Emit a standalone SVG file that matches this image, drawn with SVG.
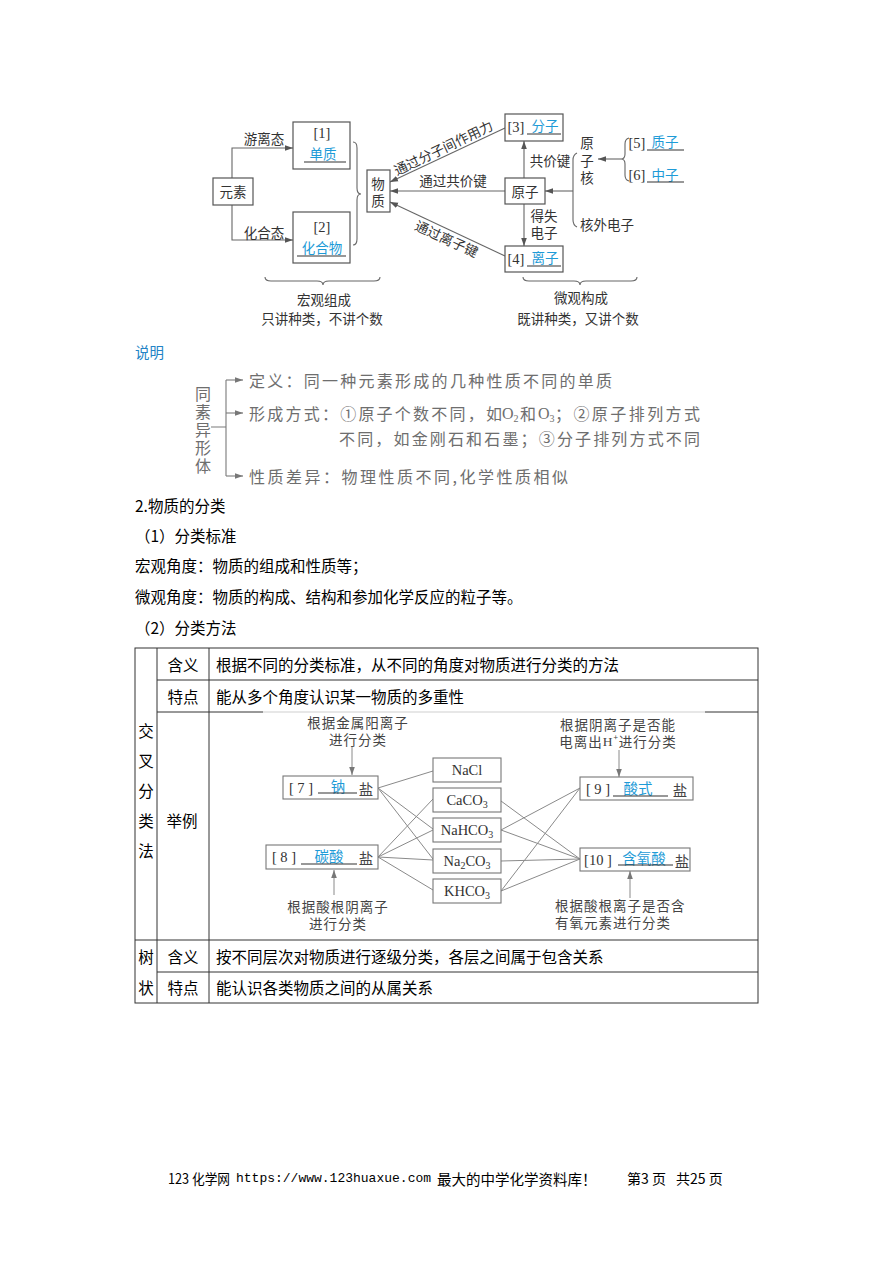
<svg xmlns="http://www.w3.org/2000/svg" width="894" height="1264" viewBox="0 0 894 1264">
<defs>
<style>
.t{font-family:"Noto Sans CJK SC","Noto Sans",sans-serif;fill:#333;font-size:13.5px;dominant-baseline:central}
.c{text-anchor:middle}
.b{fill:#1e9bd7}
.s{font-family:"Liberation Serif","Noto Sans CJK SC",serif;font-size:14.5px}
.box{fill:#fff;stroke:#555;stroke-width:1.2}
.ln{fill:none;stroke:#666;stroke-width:1.1}
.ul{stroke:#333;stroke-width:1.2}
.g{font-family:"Noto Sans CJK SC",sans-serif;fill:#6e6e6e;font-size:16px;dominant-baseline:central}
.gs{font-family:"Liberation Serif",serif}
.gl{fill:none;stroke:#7a7a7a;stroke-width:1.1}
.body{font-family:"Noto Sans CJK SC",sans-serif;font-size:15.5px;fill:#000;dominant-baseline:central}
.tb{stroke:#333;stroke-width:1;fill:none}
.cx{fill:none;stroke:#8a8a8a;stroke-width:1}
.cbox{fill:#fff;stroke:#777;stroke-width:1.1}
.ct{font-family:"Noto Sans CJK SC",sans-serif;fill:#444;font-size:13.5px;letter-spacing:1px;dominant-baseline:central}
.f{font-family:"Liberation Serif",serif;fill:#333;font-size:14.5px;dominant-baseline:central;text-anchor:middle}
</style>
<marker id="a" viewBox="0 0 10 10" refX="10" refY="5" markerWidth="8" markerHeight="8" markerUnits="userSpaceOnUse" orient="auto"><path d="M0,1.5L10,5L0,8.5z" fill="#555"/></marker>
<marker id="ag" viewBox="0 0 10 10" refX="10" refY="5" markerWidth="8" markerHeight="8" markerUnits="userSpaceOnUse" orient="auto"><path d="M0,1.5L10,5L0,8.5z" fill="#777"/></marker>
</defs>
<rect width="894" height="1264" fill="#fff"/>

<!-- ===== Top diagram ===== -->
<g id="top-connectors">
<path class="ln" d="M232,178V148H293" marker-end="url(#a)"/>
<path class="ln" d="M232,205V240H293" marker-end="url(#a)"/>
<path class="ln" d="M505,128L390,182" marker-end="url(#a)"/>
<path class="ln" d="M505,191L390,191" marker-end="url(#a)"/>
<path class="ln" d="M505,256L390,202" marker-end="url(#a)"/>
<path class="ln" d="M524,178V141" marker-end="url(#a)"/>
<path class="ln" d="M524,204V246" marker-end="url(#a)"/>
<path class="ln" d="M577,153Q573,155 573,160L573,220Q573,225 577,227"/>
<path class="ln" d="M573,191H545" marker-end="url(#a)"/>
<path class="ln" d="M629,138Q625,139 625,144L625,154Q625,159 621,159Q625,159 625,164L625,175Q625,180 629,181"/>
<path class="ln" d="M621,159H598" marker-end="url(#a)"/>
<path class="ln" d="M353,142Q357,142 357,148L357,188Q357,194 361,194Q357,194 357,200L357,239Q357,245 353,245"/>
<path class="ln" d="M265,277Q265,281 271,281L317,281Q323,281 323,285Q323,281 329,281L374,281Q380,281 380,277"/>
<path class="ln" d="M523,277Q523,281 529,281L574,281Q580,281 580,285Q580,281 586,281L631,281Q637,281 637,277"/>
<text class="t c" x="264" y="138">游离态</text>
<text class="t c" x="264" y="232">化合态</text>
<text class="t c" x="453" y="180">通过共价键</text>
<text class="t c" x="550" y="160">共价键</text>
<text class="t c" x="544" y="215">得失</text>
<text class="t c" x="544" y="232">电子</text>
<text class="t c" transform="translate(443,147) rotate(-25.6)">通过分子间作用力</text>
<text class="t c" transform="translate(447,238) rotate(24.7)">通过离子键</text>
</g>

<g id="n-yuansu"><rect class="box" x="213" y="178" width="40" height="27"/><text class="t c" x="233" y="191">元素</text></g>
<g id="n-1"><rect class="box" x="293" y="122" width="57" height="47"/><text class="t c s" x="322" y="133">[1]</text><text class="t c b" x="323" y="153">单质</text><line class="ul" x1="304" y1="162" x2="346" y2="162"/></g>
<g id="n-2"><rect class="box" x="293" y="212" width="57" height="51"/><text class="t c s" x="322" y="227">[2]</text><text class="t c b" x="322" y="247">化合物</text><line class="ul" x1="297" y1="256" x2="346" y2="256"/></g>
<g id="n-wuzhi"><rect class="box" x="367" y="170" width="23" height="42"/><text class="t c" x="378" y="183">物</text><text class="t c" x="378" y="200">质</text></g>
<g id="n-3"><rect class="box" x="505" y="114" width="58" height="27"/><text class="t c s" x="516" y="127">[3]</text><text class="t c b" x="545" y="125">分子</text><line class="ul" x1="527" y1="134" x2="561" y2="134"/></g>
<g id="n-yuanzi"><rect class="box" x="505" y="178" width="40" height="26"/><text class="t c" x="525" y="191">原子</text></g>
<g id="n-4"><rect class="box" x="505" y="246" width="58" height="26"/><text class="t c s" x="516" y="259">[4]</text><text class="t c b" x="545" y="257">离子</text><line class="ul" x1="527" y1="266" x2="561" y2="266"/></g>
<g id="n-yuanzihe"><text class="t c" x="587" y="142">原</text><text class="t c" x="587" y="160">子</text><text class="t c" x="587" y="177">核</text></g>
<g id="n-hewaidianzi"><text class="t" x="580" y="224">核外电子</text></g>
<g id="n-5"><text class="t c s" x="637" y="143">[5]</text><text class="t c b" x="665" y="141">质子</text><line class="ul" x1="647" y1="150" x2="684" y2="150"/></g>
<g id="n-6"><text class="t c s" x="637" y="175">[6]</text><text class="t c b" x="665" y="174">中子</text><line class="ul" x1="647" y1="182" x2="684" y2="182"/></g>
<g id="n-hongguan"><text class="t c" x="324" y="299">宏观组成</text><text class="t c" x="322" y="318">只讲种类，不讲个数</text></g>
<g id="n-weiguan"><text class="t c" x="581" y="297">微观构成</text><text class="t c" x="578" y="318">既讲种类，又讲个数</text></g>

<!-- ===== 说明 ===== -->
<g id="shuoming">
<text class="body" x="135" y="351" style="fill:#2383c6;font-size:14.5px">说明</text>
<text class="g" x="203" y="393" text-anchor="middle">同</text>
<text class="g" x="203" y="411" text-anchor="middle">素</text>
<text class="g" x="203" y="429" text-anchor="middle">异</text>
<text class="g" x="203" y="447" text-anchor="middle">形</text>
<text class="g" x="203" y="465" text-anchor="middle">体</text>
<path class="gl" d="M211,427H226M226,380V476"/>
<path class="gl" d="M226,380H243" marker-end="url(#ag)"/>
<path class="gl" d="M226,413H243" marker-end="url(#ag)"/>
<path class="gl" d="M226,476H243" marker-end="url(#ag)"/>
<text class="g" x="249" y="380" textLength="363" lengthAdjust="spacing">定义：同一种元素形成的几种性质不同的单质</text>
<text class="g" x="249" y="413" textLength="253" lengthAdjust="spacing">形成方式：①原子个数不同，如</text>
<text class="g gs" x="502" y="413">O<tspan font-size="10" dy="5">2</tspan></text>
<text class="g" x="520" y="413">和</text>
<text class="g gs" x="538" y="413">O<tspan font-size="10" dy="5">3</tspan></text>
<text class="g" x="555" y="413" textLength="145" lengthAdjust="spacing">；②原子排列方式</text>
<text class="g" x="339" y="438" textLength="361" lengthAdjust="spacing">不同，如金刚石和石墨；③分子排列方式不同</text>
<text class="g" x="249" y="476" textLength="319" lengthAdjust="spacing">性质差异：物理性质不同,化学性质相似</text>
</g>

<!-- ===== Body text ===== -->
<g id="body">
<text class="body" x="135" y="505">2.物质的分类</text>
<text class="body" x="135" y="535">（1）分类标准</text>
<text class="body" x="135" y="565">宏观角度：物质的组成和性质等；</text>
<text class="body" x="135" y="596">微观角度：物质的构成、结构和参加化学反应的粒子等。</text>
<text class="body" x="135" y="627">（2）分类方法</text>
</g>

<!-- ===== Table ===== -->
<g id="table">
<rect class="tb" x="135" y="648" width="623" height="355"/>
<line class="tb" x1="157" y1="648" x2="157" y2="1003"/>
<line class="tb" x1="209" y1="648" x2="209" y2="1003"/>
<line class="tb" x1="157" y1="680" x2="758" y2="680"/>
<line class="tb" x1="157" y1="712" x2="263" y2="712"/>
<line x1="263" y1="712" x2="705" y2="712" stroke="#cfcfcf" stroke-width="1"/>
<line class="tb" x1="705" y1="712" x2="758" y2="712"/>
<line class="tb" x1="135" y1="940" x2="758" y2="940"/>
<line class="tb" x1="157" y1="972" x2="758" y2="972"/>
<text class="body" x="146" y="730" text-anchor="middle">交</text>
<text class="body" x="146" y="760" text-anchor="middle">叉</text>
<text class="body" x="146" y="790" text-anchor="middle">分</text>
<text class="body" x="146" y="820" text-anchor="middle">类</text>
<text class="body" x="146" y="850" text-anchor="middle">法</text>
<text class="body" x="183" y="664" text-anchor="middle">含义</text>
<text class="body" x="183" y="696" text-anchor="middle">特点</text>
<text class="body" x="182" y="820" text-anchor="middle">举例</text>
<text class="body" x="216" y="664">根据不同的分类标准，从不同的角度对物质进行分类的方法</text>
<text class="body" x="216" y="696">能从多个角度认识某一物质的多重性</text>
<text class="body" x="146" y="956" text-anchor="middle">树</text>
<text class="body" x="146" y="987" text-anchor="middle">状</text>
<text class="body" x="183" y="956" text-anchor="middle">含义</text>
<text class="body" x="183" y="987" text-anchor="middle">特点</text>
<text class="body" x="216" y="956">按不同层次对物质进行逐级分类，各层之间属于包含关系</text>
<text class="body" x="216" y="987">能认识各类物质之间的从属关系</text>
</g>

<!-- ===== Cross classification ===== -->
<g id="cross-connectors">
<path class="cx" d="M378,788L433,771M378,788L433,829M378,788L433,859"/>
<path class="cx" d="M378,857L433,799M378,857L433,830M378,857L433,860M378,857L433,890"/>
<path class="cx" d="M501,830L580,788M501,891L580,788"/>
<path class="cx" d="M501,801L580,859M501,830L580,859M501,861L580,859M501,891L580,859"/>
<path class="cx" d="M352,747V775" marker-end="url(#ag)"/>
<path class="cx" d="M334,895V870" marker-end="url(#ag)"/>
<path class="cx" d="M619,750V777" marker-end="url(#ag)"/>
<path class="cx" d="M630,898V871" marker-end="url(#ag)"/>
</g>
<g id="lbl-jinshu"><text class="ct" x="358" y="722" text-anchor="middle">根据金属阳离子</text><text class="ct" x="358" y="739" text-anchor="middle">进行分类</text></g>
<g id="lbl-suangen"><text class="ct" x="338" y="906" text-anchor="middle">根据酸根阴离子</text><text class="ct" x="338" y="923" text-anchor="middle">进行分类</text></g>
<g id="lbl-yinlizi"><text class="ct" x="618" y="724" text-anchor="middle">根据阴离子是否能</text><text class="ct" x="618" y="741" text-anchor="middle">电离出<tspan class="gs">H</tspan><tspan font-size="8" dy="-5">+</tspan><tspan dy="5">进行分类</tspan></text></g>
<g id="lbl-hanyang"><text class="ct" x="555" y="905">根据酸根离子是否含</text><text class="ct" x="555" y="922">有氧元素进行分类</text></g>

<g id="n-7"><rect class="cbox" x="283" y="776" width="95" height="23"/><text class="f" x="301" y="788">[ 7 ]</text><text class="t c b" x="338" y="785" style="font-size:14.5px">钠</text><line class="ul" x1="318" y1="793" x2="357" y2="793"/><text class="ct" x="366" y="788" text-anchor="middle" style="font-size:14.5px;letter-spacing:0">盐</text></g>
<g id="n-8"><rect class="cbox" x="266" y="845" width="112" height="24"/><text class="f" x="284" y="857">[ 8 ]</text><text class="t c b" x="329" y="855" style="font-size:14.5px">碳酸</text><line class="ul" x1="301" y1="864" x2="357" y2="864"/><text class="ct" x="366" y="857" text-anchor="middle" style="font-size:14.5px;letter-spacing:0">盐</text></g>
<g id="n-nacl"><rect class="cbox" x="433" y="758" width="68" height="24"/><text class="f" x="467" y="770">NaCl</text></g>
<g id="n-caco3"><rect class="cbox" x="433" y="788" width="68" height="24"/><text class="f" x="467" y="800">CaCO<tspan font-size="10" dy="4">3</tspan></text></g>
<g id="n-nahco3"><rect class="cbox" x="433" y="818" width="68" height="24"/><text class="f" x="467" y="830">NaHCO<tspan font-size="10" dy="4">3</tspan></text></g>
<g id="n-na2co3"><rect class="cbox" x="433" y="849" width="68" height="24"/><text class="f" x="467" y="861">Na<tspan font-size="10" dy="4">2</tspan><tspan dy="-4">CO</tspan><tspan font-size="10" dy="4">3</tspan></text></g>
<g id="n-khco3"><rect class="cbox" x="433" y="879" width="68" height="24"/><text class="f" x="467" y="891">KHCO<tspan font-size="10" dy="4">3</tspan></text></g>
<g id="n-9"><rect class="cbox" x="580" y="777" width="113" height="23"/><text class="f" x="598" y="789">[ 9 ]</text><text class="t c b" x="638" y="787" style="font-size:14.5px">酸式</text><line class="ul" x1="613" y1="796" x2="668" y2="796"/><text class="ct" x="680" y="789" text-anchor="middle" style="font-size:14.5px;letter-spacing:0">盐</text></g>
<g id="n-10"><rect class="cbox" x="580" y="848" width="110" height="23"/><text class="f" x="598" y="860">[10 ]</text><text class="t c b" x="644" y="857" style="font-size:14.5px">含氧酸</text><line class="ul" x1="618" y1="865" x2="673" y2="865"/><text class="ct" x="682" y="860" text-anchor="middle" style="font-size:14.5px;letter-spacing:0">盐</text></g>

<!-- ===== Footer ===== -->
<g id="footer">
<text class="body" x="168" y="1178" style="font-size:14px" textLength="62" lengthAdjust="spacingAndGlyphs">123 化学网</text>
<text x="236" y="1178" style="font-family:'Liberation Mono',monospace;font-size:13px;dominant-baseline:central">https://www.123huaxue.com</text>
<text class="body" x="437" y="1178" style="font-size:14.5px">最大的中学化学资料库！</text>
<text class="body" x="627" y="1178" style="font-size:14px">第3 页</text>
<text class="body" x="676" y="1178" style="font-size:14px">共25 页</text>
</g>
</svg>
